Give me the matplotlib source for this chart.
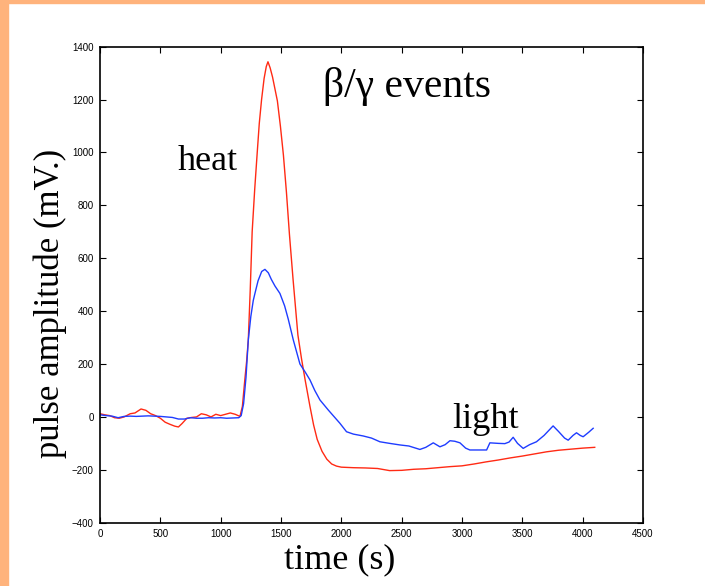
import matplotlib
matplotlib.use('Agg')
import matplotlib.pyplot as plt
from matplotlib.patches import Rectangle

# heat channel (red)
heat_t = [0, 40, 80, 120, 160, 200, 250, 290, 340, 380, 420, 460, 500, 540, 580, 620, 650,
          680, 720, 760, 800, 840, 880, 920, 960, 1000, 1040, 1080, 1120, 1160, 1180, 1200,
          1215, 1229, 1245, 1261, 1282, 1303, 1320, 1339, 1360, 1378, 1392, 1410, 1430, 1450,
          1470, 1495, 1520, 1545, 1570, 1600, 1640, 1670, 1700, 1740, 1770, 1800, 1840, 1880,
          1920, 1960, 2000, 2100, 2200, 2300, 2400, 2500, 2600, 2700, 2800, 2900, 3000, 3100,
          3200, 3300, 3400, 3500, 3600, 3700, 3800, 3900, 4000, 4100]
heat_v = [12, 8, 5, -3, -5, 0, 12, 15, 30, 25, 12, 5, -5, -20, -28, -35, -38,
          -25, -5, -2, 0, 12, 8, 0, 10, 5, 10, 15, 10, 2, 40, 140,
          210, 291, 480, 700, 860, 1000, 1110, 1200, 1280, 1325, 1343, 1320, 1285, 1240,
          1195, 1100, 990, 850, 690, 520, 310, 220, 140, 40, -30, -85, -130, -160,
          -178, -186, -190, -192, -193, -195, -203, -202, -198, -196, -192, -188, -185, -178,
          -170, -163, -155, -148, -140, -132, -126, -122, -118, -115]

# light channel (blue)
light_t = [0, 50, 100, 150, 200, 250, 300, 350, 400, 450, 500, 550, 600, 650, 700, 750, 800,
           850, 900, 950, 1000, 1050, 1100, 1150, 1170, 1190, 1210, 1229, 1250, 1270, 1284,
           1310, 1340, 1367, 1395, 1420, 1450, 1491, 1530, 1560, 1602, 1657, 1700, 1740, 1780,
           1823, 1892, 1988, 2043, 2100, 2181, 2250, 2320, 2400, 2486, 2560, 2651, 2700, 2762,
           2817, 2860, 2900, 2940, 2983, 3030, 3065, 3150, 3204, 3231, 3300, 3355, 3390, 3424,
           3460, 3507, 3560, 3617, 3680, 3755, 3800, 3850, 3880, 3920, 3949, 3980, 4004, 4050,
           4087]
light_v = [8, 5, 3, -3, 2, 3, 2, 3, 4, 3, 2, 0, -2, -8, -8, -3, -5,
           -5, -3, -4, -3, -5, -4, -3, 5, 50, 150, 291, 380, 440, 467,
           515, 550, 558, 545, 520, 495, 467, 420, 370, 291, 200, 170, 140, 100,
           64, 26, -24, -56, -65, -72, -80, -94, -100, -106, -110, -123, -115, -98,
           -113, -105, -90, -92, -98, -118, -125, -125, -125, -98, -100, -101, -95, -77,
           -100, -119, -105, -94, -70, -34, -55, -80, -88, -70, -60, -70, -75, -58,
           -43]

x_ticks = [0, 500, 1000, 1500, 2000, 2500, 3000, 3500, 4000, 4500]
y_ticks = [-400, -200, 0, 200, 400, 600, 800, 1000, 1200, 1400]

serif = ['Liberation Serif', 'DejaVu Serif']
sans = ['Liberation Sans', 'DejaVu Sans']

fig = plt.figure(figsize=(7.05, 5.86), dpi=100)
fig.patch.set_facecolor('white')

# orange slide border
fig.patches.append(Rectangle((0, 0), 8 / 705, 1, transform=fig.transFigure,
                             color='#ffb37c', zorder=0))
fig.patches.append(Rectangle((0, 1 - 3 / 586), 1, 3 / 586, transform=fig.transFigure,
                             color='#ffb37c', zorder=0))

ax = fig.add_axes([100 / 705, 1 - 522.7 / 586, 543 / 705, 476 / 586])
ax.plot(heat_t, heat_v, color='#ff2a14', lw=1.0)
ax.plot(light_t, light_v, color='#1e3cff', lw=1.0)

ax.set_xlim(0, 4500)
ax.set_ylim(-400, 1400)
ax.set_xticks(x_ticks)
ax.set_yticks(y_ticks)
ax.tick_params(direction='in', length=4, width=0.8, top=True, right=True,
               labelsize=7, pad=4.5)
for lab in ax.get_xticklabels() + ax.get_yticklabels():
    lab.set_family(sans)
for sp in ax.spines.values():
    sp.set_linewidth(1.2)

ax.text(1848, 1210, 'β/γ events', fontsize=30, family=serif, ha='left', va='baseline')
ax.text(646, 934, 'heat', fontsize=26, family=serif, ha='left', va='baseline')
ax.text(2916, -42, 'light', fontsize=26, family=serif, ha='left', va='baseline')

fig.text(340 / 705, 1 - 560 / 586, 'time (s)', fontsize=26, family=serif,
         ha='center', va='center')
fig.text(50 / 705, 1 - 303 / 586, 'pulse amplitude (mV.)', fontsize=25, family=serif,
         ha='center', va='center', rotation=90)

fig.savefig('out.png', dpi=100)
